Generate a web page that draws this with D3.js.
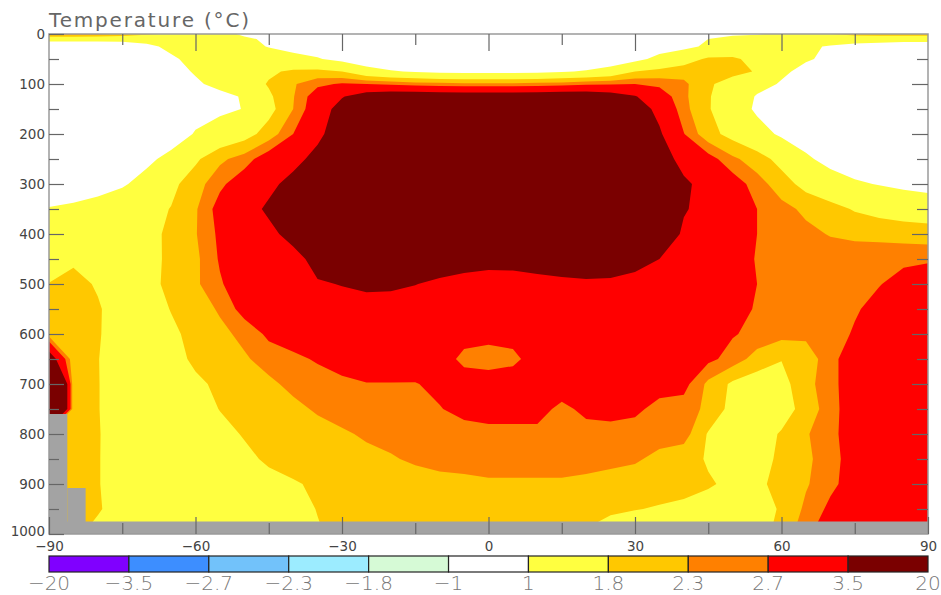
<!DOCTYPE html>
<html>
<head>
<meta charset="utf-8">
<script src="https://cdn.jsdelivr.net/npm/d3@7"></script>
<style>
  body { margin: 0; background: #fff; }
  svg { display: block; font-family: "DejaVu Sans", sans-serif; }
</style>
</head>
<body>
<div id="vis"></div>
<script>
// Zonal mean temperature change, latitude vs pressure, drawn as filled contours.

// grid columns (latitude) and rows (pressure, hPa)
var lats = [-90, -85, -80, -75, -70, -65, -60, -55, -50, -45, -40, -35, -30, -25, -20, -15, -10, -5,
            0, 5, 10, 15, 20, 25, 30, 35, 40, 45, 50, 55, 60, 65, 70, 75, 80, 85, 90];
var pLevels = [0, 10, 25, 50, 75, 100, 125, 150, 200, 250, 300, 350, 400, 450, 500,
               550, 600, 650, 700, 750, 800, 850, 900, 950, 1000];

// temperature change (°C), one row per pressure level (-90 .. 90)
var p0    = [2.6, 2.5, 2.4, 2.2, 1.9, 1.7, 1.5, 1.2, 0.9,  0.8, 0.7, 0.65, 0.6, 0.6, 0.6, 0.6, 0.6, 0.6,  0.6,  0.6, 0.6, 0.6, 0.6, 0.6, 0.6, 0.65, 0.7, 0.8,  0.9, 0.95, 1.1, 1.5, 1.8, 2.0, 2.1, 2.1, 2.1];
var p10   = [1.2, 1.2, 1.2, 1.2, 1.25, 1.35, 1.4, 1.3, 1.1,  0.9, 0.8, 0.7, 0.65, 0.65, 0.65, 0.65, 0.65, 0.65,  0.65,  0.65, 0.65, 0.65, 0.65, 0.65, 0.65, 0.7, 0.85, 1.0,  1.2, 1.3, 1.35, 1.35, 1.3, 1.3, 1.25, 1.2, 1.2];
var p25   = [0.6, 0.6, 0.6, 0.65, 0.85, 1.15, 1.3, 1.35, 1.2,  0.97, 0.8, 0.7, 0.65, 0.65, 0.65, 0.65, 0.65, 0.65,  0.65,  0.65, 0.65, 0.65, 0.65, 0.65, 0.65, 0.7, 0.85, 1.1,  1.3, 1.35, 1.3, 1.1, 0.95, 0.8, 0.75, 0.7, 0.7];
var p50   = [0.5, 0.5, 0.5, 0.55, 0.7, 0.9, 1.2, 1.35, 1.4,  1.35, 1.2, 1.05, 0.8, 0.55, 0.5, 0.5, 0.5, 0.5,  0.5,  0.5, 0.5, 0.5, 0.5, 0.55, 0.8, 1.2, 1.5, 1.9,  1.9, 1.6, 1.3, 1.05, 0.9, 0.7, 0.6, 0.6, 0.6];
var p75   = [0.45, 0.45, 0.5, 0.55, 0.65, 0.8, 1.05, 1.3, 1.5,  1.7, 1.9, 1.95, 1.8, 1.3, 1.05, 0.95, 0.85, 0.8,  0.8,  0.8, 0.85, 0.95, 1.05, 1.3, 1.8, 1.95, 2.1, 2.1,  2.0, 1.75, 1.1, 0.85, 0.7, 0.6, 0.55, 0.5, 0.5];
var p100  = [0.4, 0.4, 0.45, 0.5, 0.6, 0.75, 0.92, 1.15, 1.45,  1.85, 2.25, 2.6, 2.75, 2.7, 2.6, 2.5, 2.45, 2.4,  2.4,  2.4, 2.45, 2.5, 2.6, 2.65, 2.7, 2.6, 2.4, 1.9,  1.5, 1.2, 0.95, 0.75, 0.6, 0.55, 0.5, 0.5, 0.5];
var p125  = [0.35, 0.35, 0.4, 0.45, 0.55, 0.65, 0.75, 0.85, 1.05,  1.7, 2.27, 3.0, 3.45, 3.9, 4.1, 4.1, 4.05, 4.0,  4.0,  4.0, 4.05, 4.1, 4.1, 3.9, 3.55, 3.0, 2.4, 1.85,  1.4, 0.95, 0.7, 0.6, 0.55, 0.5, 0.5, 0.45, 0.45];
var p150  = [0.3, 0.3, 0.35, 0.4, 0.5, 0.62, 0.75, 0.88, 1.02,  1.6, 2.3, 3.1, 3.8, 4.3, 4.5, 4.5, 4.5, 4.5,  4.5,  4.5, 4.5, 4.5, 4.5, 4.3, 3.9, 3.3, 2.45, 1.85,  1.35, 0.9, 0.65, 0.55, 0.5, 0.45, 0.45, 0.4, 0.4];
var p200  = [0.3, 0.3, 0.35, 0.4, 0.5, 0.65, 1.05, 1.3, 1.55,  2.05, 2.7, 3.35, 3.9, 4.4, 4.6, 4.6, 4.6, 4.6,  4.6,  4.6, 4.6, 4.6, 4.6, 4.4, 4.0, 3.6, 2.72, 2.0,  1.6, 1.25, 0.9, 0.7, 0.55, 0.5, 0.45, 0.45, 0.45];
var p250  = [0.3, 0.35, 0.45, 0.6, 0.85, 1.2, 1.7, 2.2, 2.5,  3.0, 3.3, 3.7, 4.1, 4.5, 4.7, 4.7, 4.7, 4.7,  4.7,  4.7, 4.7, 4.7, 4.7, 4.5, 4.2, 3.8, 3.3, 2.9,  2.4, 2.05, 1.6, 1.1, 0.8, 0.65, 0.55, 0.5, 0.5];
var p300  = [0.45, 0.55, 0.7, 0.92, 1.25, 1.65, 2.1, 2.6, 3.0,  3.35, 3.7, 4.0, 4.3, 4.6, 4.8, 4.8, 4.8, 4.8,  4.8,  4.8, 4.8, 4.8, 4.8, 4.6, 4.3, 4.0, 3.6, 3.3,  2.95, 2.5, 2.05, 1.6, 1.3, 1.08, 0.97, 0.85, 0.75];
var p350  = [1.05, 1.15, 1.3, 1.45, 1.6, 1.82, 2.25, 2.9, 3.25,  3.6, 4.0, 4.3, 4.6, 4.8, 4.8, 4.8, 4.8, 4.8,  4.8,  4.8, 4.8, 4.8, 4.8, 4.8, 4.6, 4.2, 3.55, 3.3,  3.0, 2.7, 2.45, 2.2, 2.0, 1.75, 1.6, 1.5, 1.45];
var p400  = [1.2, 1.3, 1.45, 1.6, 1.72, 1.85, 2.27, 2.8, 3.1,  3.35, 3.7, 4.1, 4.4, 4.7, 4.7, 4.7, 4.7, 4.7,  4.7,  4.7, 4.7, 4.7, 4.7, 4.7, 4.4, 4.0, 3.4, 3.15,  2.95, 2.7, 2.55, 2.42, 2.27, 2.2, 2.15, 2.1, 2.05];
var p450  = [1.45, 1.72, 1.7, 1.72, 1.75, 1.83, 2.2, 2.75, 3.0,  3.15, 3.3, 3.7, 3.95, 4.15, 4.2, 4.1, 3.97, 3.88,  3.81,  3.8, 3.87, 3.89, 3.98, 3.88, 3.72, 3.5, 3.2, 3.0,  2.85, 2.68, 2.6, 2.55, 2.55, 2.55, 2.6, 2.62, 2.65];
var p500  = [1.82, 1.95, 1.75, 1.6, 1.72, 1.86, 2.22, 2.65, 3.0,  3.2, 3.35, 3.45, 3.52, 3.6, 3.62, 3.52, 3.35, 3.2,  3.1,  3.15, 3.25, 3.35, 3.38, 3.38, 3.3, 3.2, 3.0, 2.9,  2.8, 2.7, 2.55, 2.5, 2.5, 2.55, 2.68, 2.85, 2.95];
var p550  = [2.0, 2.05, 1.85, 1.55, 1.55, 1.82, 2.1, 2.35, 2.9,  3.1, 3.2, 3.25, 3.3, 3.3, 3.2, 3.1, 3.0, 2.95,  2.95,  2.95, 3.0, 3.1, 3.15, 3.15, 3.1, 3.0, 2.95, 2.85,  2.78, 2.68, 2.55, 2.5, 2.55, 2.65, 2.85, 3.0, 3.05];
var p600  = [2.1, 2.1, 1.85, 1.5, 1.5, 1.7, 1.95, 2.2, 2.4,  2.8, 2.95, 3.05, 3.1, 3.1, 3.0, 2.95, 2.9, 2.85,  2.85,  2.85, 2.9, 2.95, 3.0, 3.0, 2.95, 2.9, 2.85, 2.8,  2.73, 2.6, 2.45, 2.4, 2.5, 2.75, 2.95, 3.1, 3.1];
var p650  = [4.1, 2.0, 1.82, 1.45, 1.45, 1.6, 1.9, 2.1, 2.25,  2.45, 2.6, 2.75, 2.9, 3.0, 3.0, 2.95, 2.9, 2.6,  2.5,  2.6, 2.9, 2.95, 3.0, 3.0, 2.95, 2.9, 2.85, 2.8,  2.55, 2.1, 1.82, 2.05, 2.55, 3.0, 3.2, 3.3, 3.3];
var p700  = [8.0, 2.0, 1.83, 1.4, 1.35, 1.45, 1.7, 1.9, 2.05,  2.22, 2.4, 2.5, 2.6, 2.68, 2.68, 2.68, 2.8, 2.9,  2.95,  2.95, 2.95, 2.95, 2.95, 2.95, 2.95, 2.9, 2.85, 2.2,  1.7, 1.5, 1.6, 2.15, 2.55, 3.0, 3.25, 3.35, 3.4];
var p750  = [8.0, 2.0, 1.83, 1.4, 1.3, 1.35, 1.5, 1.82, 1.95,  2.05, 2.2, 2.35, 2.45, 2.5, 2.55, 2.6, 2.68, 2.82,  2.85,  2.85, 2.85, 2.6, 2.8, 2.85, 2.8, 2.55, 2.5, 2.2,  1.6, 1.45, 1.55, 2.0, 2.55, 2.95, 3.3, 3.4, 3.4];
var p800  = [2.0, 2.0, 1.85, 1.4, 1.25, 1.25, 1.35, 1.6, 1.85,  1.95, 2.05, 2.15, 2.25, 2.35, 2.4, 2.45, 2.5, 2.55,  2.6,  2.6, 2.6, 2.55, 2.55, 2.55, 2.5, 2.45, 2.5, 1.75,  1.5, 1.55, 1.85, 2.25, 2.6, 2.9, 3.3, 3.45, 3.45];
var p850  = [2.0, 2.0, 1.85, 1.35, 1.2, 1.2, 1.3, 1.45, 1.65,  1.9, 2.0, 2.1, 2.15, 2.2, 2.27, 2.35, 2.4, 2.45,  2.45,  2.45, 2.45, 2.45, 2.45, 2.4, 2.35, 2.2, 2.0, 1.75,  1.55, 1.6, 1.9, 2.2, 2.55, 2.9, 3.3, 3.45, 3.45];
var p900  = [2.0, 2.0, 1.85, 1.35, 1.2, 1.15, 1.2, 1.3, 1.45,  1.6, 1.75, 1.88, 1.95, 2.05, 2.1, 2.15, 2.2, 2.2,  2.25,  2.25, 2.25, 2.25, 2.2, 2.15, 2.1, 2.0, 1.95, 1.85,  1.7, 1.7, 1.95, 2.25, 2.6, 2.9, 3.3, 3.45, 3.45];
var p950  = [2.0, 2.0, 1.9, 1.35, 1.2, 1.15, 1.15, 1.2, 1.3,  1.45, 1.6, 1.82, 1.95, 2.0, 2.05, 2.1, 2.1, 2.1,  2.1,  2.1, 2.05, 2.0, 1.97, 1.9, 1.82, 1.76, 1.7, 1.6,  1.55, 1.6, 1.85, 2.4, 2.8, 3.1, 3.35, 3.45, 3.45];
var p1000 = [2.0, 2.0, 1.5, 1.3, 1.2, 1.15, 1.15, 1.2, 1.3,  1.45, 1.6, 1.75, 1.95, 2.0, 2.0, 2.05, 2.05, 2.05,  2.0,  2.0, 1.95, 1.9, 1.75, 1.5, 1.45, 1.45, 1.45, 1.45,  1.45, 1.55, 2.0, 2.6, 3.0, 3.2, 3.4, 3.45, 3.45];

// colour bar boundaries
var levels = [-20, -3.5, -2.7, -2.3, -1.8, -1, 1, 1.8, 2.3, 2.7, 3.5, 20];

// topography (grey) : west edge, east edge, top pressure of each block
var maskWest = [-90, -86.25, -90];
var maskEast = [-86.25, -82.5, 90];
var maskTop = [760, 908, 975];

// ticks
var xMinor = [-75, -45, -15, 15, 45, 75];
var xMajor = [-90, -60, -30, 0, 30, 60, 90];
var yMinor = [50, 150, 250, 350, 450, 550, 650, 750, 850, 950];
var yMajor = [0, 100, 200, 300, 400, 500, 600, 700, 800, 900, 1000];

// one colour per band of the colour bar
var palette = ['#8000ff', '#3d8eff', '#72c2fa', '#9cecff', '#d6fad6', '#ffffff',
               '#ffff40', '#ffc800', '#ff8000', '#ff0000', '#7a0000'];

(function() {
    var width = 941, height = 595;
    var plotL = 49, plotR = 928, plotT = 34, plotB = 534;

    var svg = d3.select('#vis').append('svg')
        .attr('width', width)
        .attr('height', height);

    var x = d3.scaleLinear().domain([-90, 90]).range([plotL, plotR]);
    var y = d3.scaleLinear().domain([0, 1000]).range([plotT, plotB]);

    // grid index -> latitude / pressure
    var colLat = d3.scaleLinear().domain(lats.map(function(d, i) { return i; })).range(lats);
    var rowP = d3.scaleLinear().domain(pLevels.map(function(d, i) { return i; })).range(pLevels);

    var rows = [p0, p10, p25, p50, p75, p100, p125, p150, p200, p250, p300, p350, p400, p450,
                p500, p550, p600, p650, p700, p750, p800, p850, p900, p950, p1000];
    var values = [].concat.apply([], rows);

    var proj = d3.geoTransform({
        point: function(cx, cy) {
            this.stream.point(x(colLat(cx - 0.5)), y(rowP(cy - 0.5)));
        }
    });
    var path = d3.geoPath(proj);

    svg.append('clipPath').attr('id', 'plotclip')
      .append('rect')
        .attr('x', plotL).attr('y', plotT)
        .attr('width', plotR - plotL).attr('height', plotB - plotT);

    var plot = svg.append('g').attr('clip-path', 'url(#plotclip)');

    // band -1..1 is the background
    plot.append('rect')
        .attr('x', plotL).attr('y', plotT)
        .attr('width', plotR - plotL).attr('height', plotB - plotT)
        .attr('fill', palette[5]);

    var fillLevels = levels.filter(function(t) { return t >= 1 && t < 20; });
    var contours = d3.contours()
        .size([lats.length, pLevels.length])
        .thresholds(fillLevels)(values);

    plot.selectAll('path.band')
        .data(contours)
        .enter().append('path')
        .attr('class', 'band')
        .attr('d', path)
        .attr('fill', function(d) { return palette[levels.indexOf(d.value)]; });

    // topography
    plot.selectAll('rect.mask')
        .data(maskTop)
        .enter().append('rect')
        .attr('class', 'mask')
        .attr('x', function(d, i) { return x(maskWest[i]); })
        .attr('width', function(d, i) { return x(maskEast[i]) - x(maskWest[i]); })
        .attr('y', function(d) { return y(d); })
        .attr('height', function(d) { return y(1000) - y(d); })
        .attr('fill', '#a3a3a3');

    // frame
    svg.append('rect')
        .attr('x', plotL).attr('y', plotT)
        .attr('width', plotR - plotL).attr('height', plotB - plotT)
        .attr('fill', 'none')
        .attr('stroke', '#9a9a9a')
        .attr('stroke-width', 1.5);

    function styleAxis(g) {
        g.select('.domain').remove();
        g.selectAll('.tick line').attr('stroke', '#666').attr('stroke-width', 1.2);
        g.selectAll('.tick text').attr('fill', '#444');
        g.attr('font-size', 13.5).attr('font-family', '"DejaVu Sans", sans-serif');
    }

    // bottom
    svg.append('g').attr('transform', 'translate(0,' + plotB + ')')
        .call(d3.axisBottom(x).tickValues(xMinor).tickSize(-11).tickFormat(''))
        .call(styleAxis);
    svg.append('g').attr('transform', 'translate(0,' + plotB + ')')
        .call(d3.axisBottom(x).tickValues(xMajor).tickSize(-17).tickPadding(7))
        .call(styleAxis);
    // top
    svg.append('g').attr('transform', 'translate(0,' + plotT + ')')
        .call(d3.axisTop(x).tickValues(xMinor).tickSize(-11).tickFormat(''))
        .call(styleAxis);
    svg.append('g').attr('transform', 'translate(0,' + plotT + ')')
        .call(d3.axisTop(x).tickValues(xMajor.slice(1, -1)).tickSize(-17).tickFormat(''))
        .call(styleAxis);
    // left
    svg.append('g').attr('transform', 'translate(' + plotL + ',0)')
        .call(d3.axisLeft(y).tickValues(yMinor).tickSize(-10).tickFormat(''))
        .call(styleAxis);
    var yLab = svg.append('g').attr('transform', 'translate(' + plotL + ',0)')
        .call(d3.axisLeft(y).tickValues(yMajor).tickSize(-15).tickPadding(4).tickFormat(d3.format('d')))
        .call(styleAxis);
    // the 1000 label sits a little higher, clear of the −90 label
    yLab.selectAll('.tick text').filter(function(d) { return d === 1000; }).attr('dy', '0.1em');
    // right
    svg.append('g').attr('transform', 'translate(' + plotR + ',0)')
        .call(d3.axisRight(y).tickValues(yMinor).tickSize(-11).tickFormat(''))
        .call(styleAxis);
    svg.append('g').attr('transform', 'translate(' + plotR + ',0)')
        .call(d3.axisRight(y).tickValues(yMajor.slice(1, -1)).tickSize(-16).tickFormat(''))
        .call(styleAxis);

    // title
    svg.append('text')
        .attr('x', plotL)
        .attr('y', 27)
        .attr('font-size', 20)
        .attr('fill', '#666')
        .attr('textLength', 200)
        .attr('lengthAdjust', 'spacing')
        .text('Temperature (°C)');

    // colour bar
    var cb = d3.scalePoint().domain(levels).range([plotL, plotR]);
    var cbTop = 556, cbH = 16;
    var fmt = d3.format('~g');

    svg.selectAll('rect.cb')
        .data(levels.slice(0, -1))
        .enter().append('rect')
        .attr('class', 'cb')
        .attr('x', function(d) { return cb(d); })
        .attr('y', cbTop)
        .attr('width', function(d, i) { return cb(levels[i + 1]) - cb(d); })
        .attr('height', cbH)
        .attr('fill', function(d, i) { return palette[i]; })
        .attr('stroke', '#222')
        .attr('stroke-width', 1.2);

    svg.selectAll('text.cb')
        .data(levels)
        .enter().append('text')
        .attr('class', 'cb')
        .attr('x', function(d) { return cb(d); })
        .attr('y', 589.5)
        .attr('text-anchor', 'middle')
        .attr('font-size', 20)
        .attr('font-weight', 200)
        .attr('fill', '#777')
        .text(function(d) { return fmt(d); });
})();
</script>
</body>
</html>
